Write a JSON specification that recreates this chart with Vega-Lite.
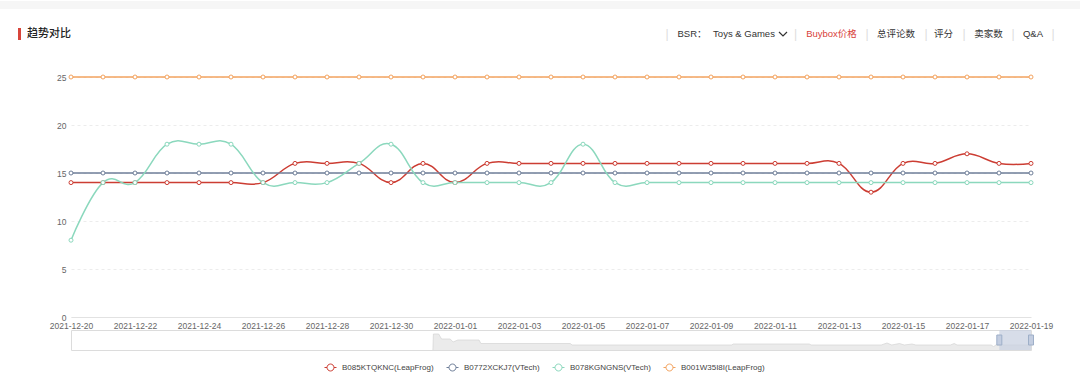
{
  "$schema": "https://vega.github.io/schema/vega-lite/v6.json",
  "padding": 0,
  "background": "white",
  "spacing": 0,
  "bounds": "full",
  "config": {
    "view": {"stroke": null},
    "concat": {"spacing": 0},
    "font": "Liberation Sans, Noto Sans CJK SC, sans-serif",
    "text": {"font": "Liberation Sans, Noto Sans CJK SC, sans-serif", "fontSize": 9.5, "color": "#333333", "baseline": "middle", "align": "center"}
  },
  "datasets": {
    "main": [
      {"date": "2021-12-20", "B085KTQKNC(LeapFrog)": 14, "B0772XCKJ7(VTech)": 15, "B078KGNGNS(VTech)": 8, "B001W35I8I(LeapFrog)": 25},
      {"date": "2021-12-21", "B085KTQKNC(LeapFrog)": 14, "B0772XCKJ7(VTech)": 15, "B078KGNGNS(VTech)": 14, "B001W35I8I(LeapFrog)": 25},
      {"date": "2021-12-22", "B085KTQKNC(LeapFrog)": 14, "B0772XCKJ7(VTech)": 15, "B078KGNGNS(VTech)": 14, "B001W35I8I(LeapFrog)": 25},
      {"date": "2021-12-23", "B085KTQKNC(LeapFrog)": 14, "B0772XCKJ7(VTech)": 15, "B078KGNGNS(VTech)": 18, "B001W35I8I(LeapFrog)": 25},
      {"date": "2021-12-24", "B085KTQKNC(LeapFrog)": 14, "B0772XCKJ7(VTech)": 15, "B078KGNGNS(VTech)": 18, "B001W35I8I(LeapFrog)": 25},
      {"date": "2021-12-25", "B085KTQKNC(LeapFrog)": 14, "B0772XCKJ7(VTech)": 15, "B078KGNGNS(VTech)": 18, "B001W35I8I(LeapFrog)": 25},
      {"date": "2021-12-26", "B085KTQKNC(LeapFrog)": 14, "B0772XCKJ7(VTech)": 15, "B078KGNGNS(VTech)": 14, "B001W35I8I(LeapFrog)": 25},
      {"date": "2021-12-27", "B085KTQKNC(LeapFrog)": 16, "B0772XCKJ7(VTech)": 15, "B078KGNGNS(VTech)": 14, "B001W35I8I(LeapFrog)": 25},
      {"date": "2021-12-28", "B085KTQKNC(LeapFrog)": 16, "B0772XCKJ7(VTech)": 15, "B078KGNGNS(VTech)": 14, "B001W35I8I(LeapFrog)": 25},
      {"date": "2021-12-29", "B085KTQKNC(LeapFrog)": 16, "B0772XCKJ7(VTech)": 15, "B078KGNGNS(VTech)": 16, "B001W35I8I(LeapFrog)": 25},
      {"date": "2021-12-30", "B085KTQKNC(LeapFrog)": 14, "B0772XCKJ7(VTech)": 15, "B078KGNGNS(VTech)": 18, "B001W35I8I(LeapFrog)": 25},
      {"date": "2021-12-31", "B085KTQKNC(LeapFrog)": 16, "B0772XCKJ7(VTech)": 15, "B078KGNGNS(VTech)": 14, "B001W35I8I(LeapFrog)": 25},
      {"date": "2022-01-01", "B085KTQKNC(LeapFrog)": 14, "B0772XCKJ7(VTech)": 15, "B078KGNGNS(VTech)": 14, "B001W35I8I(LeapFrog)": 25},
      {"date": "2022-01-02", "B085KTQKNC(LeapFrog)": 16, "B0772XCKJ7(VTech)": 15, "B078KGNGNS(VTech)": 14, "B001W35I8I(LeapFrog)": 25},
      {"date": "2022-01-03", "B085KTQKNC(LeapFrog)": 16, "B0772XCKJ7(VTech)": 15, "B078KGNGNS(VTech)": 14, "B001W35I8I(LeapFrog)": 25},
      {"date": "2022-01-04", "B085KTQKNC(LeapFrog)": 16, "B0772XCKJ7(VTech)": 15, "B078KGNGNS(VTech)": 14, "B001W35I8I(LeapFrog)": 25},
      {"date": "2022-01-05", "B085KTQKNC(LeapFrog)": 16, "B0772XCKJ7(VTech)": 15, "B078KGNGNS(VTech)": 18, "B001W35I8I(LeapFrog)": 25},
      {"date": "2022-01-06", "B085KTQKNC(LeapFrog)": 16, "B0772XCKJ7(VTech)": 15, "B078KGNGNS(VTech)": 14, "B001W35I8I(LeapFrog)": 25},
      {"date": "2022-01-07", "B085KTQKNC(LeapFrog)": 16, "B0772XCKJ7(VTech)": 15, "B078KGNGNS(VTech)": 14, "B001W35I8I(LeapFrog)": 25},
      {"date": "2022-01-08", "B085KTQKNC(LeapFrog)": 16, "B0772XCKJ7(VTech)": 15, "B078KGNGNS(VTech)": 14, "B001W35I8I(LeapFrog)": 25},
      {"date": "2022-01-09", "B085KTQKNC(LeapFrog)": 16, "B0772XCKJ7(VTech)": 15, "B078KGNGNS(VTech)": 14, "B001W35I8I(LeapFrog)": 25},
      {"date": "2022-01-10", "B085KTQKNC(LeapFrog)": 16, "B0772XCKJ7(VTech)": 15, "B078KGNGNS(VTech)": 14, "B001W35I8I(LeapFrog)": 25},
      {"date": "2022-01-11", "B085KTQKNC(LeapFrog)": 16, "B0772XCKJ7(VTech)": 15, "B078KGNGNS(VTech)": 14, "B001W35I8I(LeapFrog)": 25},
      {"date": "2022-01-12", "B085KTQKNC(LeapFrog)": 16, "B0772XCKJ7(VTech)": 15, "B078KGNGNS(VTech)": 14, "B001W35I8I(LeapFrog)": 25},
      {"date": "2022-01-13", "B085KTQKNC(LeapFrog)": 16, "B0772XCKJ7(VTech)": 15, "B078KGNGNS(VTech)": 14, "B001W35I8I(LeapFrog)": 25},
      {"date": "2022-01-14", "B085KTQKNC(LeapFrog)": 13, "B0772XCKJ7(VTech)": 15, "B078KGNGNS(VTech)": 14, "B001W35I8I(LeapFrog)": 25},
      {"date": "2022-01-15", "B085KTQKNC(LeapFrog)": 16, "B0772XCKJ7(VTech)": 15, "B078KGNGNS(VTech)": 14, "B001W35I8I(LeapFrog)": 25},
      {"date": "2022-01-16", "B085KTQKNC(LeapFrog)": 16, "B0772XCKJ7(VTech)": 15, "B078KGNGNS(VTech)": 14, "B001W35I8I(LeapFrog)": 25},
      {"date": "2022-01-17", "B085KTQKNC(LeapFrog)": 17, "B0772XCKJ7(VTech)": 15, "B078KGNGNS(VTech)": 14, "B001W35I8I(LeapFrog)": 25},
      {"date": "2022-01-18", "B085KTQKNC(LeapFrog)": 16, "B0772XCKJ7(VTech)": 15, "B078KGNGNS(VTech)": 14, "B001W35I8I(LeapFrog)": 25},
      {"date": "2022-01-19", "B085KTQKNC(LeapFrog)": 16, "B0772XCKJ7(VTech)": 15, "B078KGNGNS(VTech)": 14, "B001W35I8I(LeapFrog)": 25}
    ],
    "shadow": [
      {"p": 37.7, "v": 0}, {"p": 37.75, "v": 16}, {"p": 38.3, "v": 16}, {"p": 38.6, "v": 11}, {"p": 39.5, "v": 11},
      {"p": 39.8, "v": 8}, {"p": 40.3, "v": 10}, {"p": 42.5, "v": 10}, {"p": 42.7, "v": 6.5}, {"p": 52, "v": 6.5},
      {"p": 52.2, "v": 5}, {"p": 68.8, "v": 5}, {"p": 69, "v": 6}, {"p": 76.9, "v": 6}, {"p": 77.1, "v": 5},
      {"p": 84.4, "v": 5}, {"p": 85, "v": 7}, {"p": 85.5, "v": 5}, {"p": 86.3, "v": 6.5}, {"p": 86.8, "v": 5},
      {"p": 87.6, "v": 6}, {"p": 88, "v": 5}, {"p": 91.6, "v": 5}, {"p": 92, "v": 6.5}, {"p": 92.3, "v": 5},
      {"p": 95.9, "v": 5}, {"p": 96.1, "v": 3}, {"p": 96.3, "v": 5}, {"p": 100, "v": 5}
    ],
    "win": [{"a": 96.7, "b": 100}],
    "handles": [{"a": 96.7}, {"a": 100}],
    "one": [{}]
  },
  "vconcat": [
    {"width": 1080, "height": 8, "view": {"fill": "#f6f6f6", "stroke": null}, "data": {"name": "one"}, "mark": "text", "encoding": {"text": {"value": ""}}},
    {"width": 1080, "height": 18, "data": {"name": "one"}, "mark": "text", "encoding": {"text": {"value": ""}}},
    {
      "spacing": 0,
      "bounds": "flush",
      "hconcat": [
        {"width": 18, "height": 12, "data": {"name": "one"}, "mark": "text", "encoding": {"text": {"value": ""}}},
        {"width": 3, "height": 12, "view": {"fill": "#d8453b", "stroke": null}, "data": {"name": "one"}, "mark": "text", "encoding": {"text": {"value": ""}}},
        {"width": 56, "height": 12, "data": {"name": "one"}, "mark": {"type": "text", "fontSize": 11, "fontWeight": 500, "color": "#222222"}, "encoding": {"text": {"value": "趋势对比"}}},
        {"width": 584, "height": 12, "data": {"name": "one"}, "mark": "text", "encoding": {"text": {"value": ""}}},
        {"width": 12, "height": 12, "data": {"name": "one"}, "mark": {"type": "text", "fontSize": 12, "color": "#dddddd"}, "encoding": {"text": {"value": "|"}}},
        {"width": 38, "height": 12, "data": {"name": "one"}, "mark": {"type": "text"}, "encoding": {"text": {"value": "BSR："}}},
        {"width": 66, "height": 12, "data": {"name": "one"}, "mark": {"type": "text"}, "encoding": {"text": {"value": "Toys & Games"}}},
        {"width": 12, "height": 12, "data": {"name": "one"}, "mark": {"type": "point", "shape": "M-1,-0.5L0,0.5L1,-0.5", "filled": false, "color": "#333333", "strokeWidth": 1.2, "size": 64, "opacity": 1}, "encoding": {}},
        {"width": 13, "height": 12, "data": {"name": "one"}, "mark": {"type": "text", "fontSize": 12, "color": "#dddddd"}, "encoding": {"text": {"value": "|"}}},
        {"width": 59, "height": 12, "data": {"name": "one"}, "mark": {"type": "text", "color": "#d8403a"}, "encoding": {"text": {"value": "Buybox价格"}}},
        {"width": 12, "height": 12, "data": {"name": "one"}, "mark": {"type": "text", "fontSize": 12, "color": "#dddddd"}, "encoding": {"text": {"value": "|"}}},
        {"width": 46, "height": 12, "data": {"name": "one"}, "mark": {"type": "text"}, "encoding": {"text": {"value": "总评论数"}}},
        {"width": 14, "height": 12, "data": {"name": "one"}, "mark": {"type": "text", "fontSize": 12, "color": "#dddddd"}, "encoding": {"text": {"value": "|"}}},
        {"width": 21, "height": 12, "data": {"name": "one"}, "mark": {"type": "text"}, "encoding": {"text": {"value": "评分"}}},
        {"width": 20, "height": 12, "data": {"name": "one"}, "mark": {"type": "text", "fontSize": 12, "color": "#dddddd"}, "encoding": {"text": {"value": "|"}}},
        {"width": 29, "height": 12, "data": {"name": "one"}, "mark": {"type": "text"}, "encoding": {"text": {"value": "卖家数"}}},
        {"width": 20, "height": 12, "data": {"name": "one"}, "mark": {"type": "text", "fontSize": 12, "color": "#dddddd"}, "encoding": {"text": {"value": "|"}}},
        {"width": 20, "height": 12, "data": {"name": "one"}, "mark": {"type": "text"}, "encoding": {"text": {"value": "Q&A"}}},
        {"width": 20, "height": 12, "data": {"name": "one"}, "mark": {"type": "text", "fontSize": 12, "color": "#dddddd"}, "encoding": {"text": {"value": "|"}}},
        {"width": 17, "height": 12, "data": {"name": "one"}, "mark": "text", "encoding": {"text": {"value": ""}}}
      ]
    },
    {"width": 1080, "height": 32.75, "data": {"name": "one"}, "mark": "text", "encoding": {"text": {"value": ""}}},
    {
      "spacing": -7,
      "bounds": "full",
      "vconcat": [
        {
          "spacing": 0,
          "bounds": "flush",
          "hconcat": [
            {"width": 71, "height": 240, "data": {"name": "one"}, "mark": "text", "encoding": {"text": {"value": ""}}},
            {
              "width": 960,
              "height": 240,
              "data": {"name": "main"},
              "transform": [{"fold": ["B085KTQKNC(LeapFrog)", "B0772XCKJ7(VTech)", "B078KGNGNS(VTech)", "B001W35I8I(LeapFrog)"], "as": ["series", "value"]}],
              "encoding": {
                "x": {
                  "field": "date", "type": "temporal",
                  "scale": {"type": "utc", "domain": [1639958400000, 1642550400000], "nice": false},
                  "axis": {
                    "title": null, "format": "%Y-%m-%d",
                    "values": [1639958400000, 1640131200000, 1640304000000, 1640476800000, 1640649600000, 1640822400000, 1640995200000, 1641168000000, 1641340800000, 1641513600000, 1641686400000, 1641859200000, 1642032000000, 1642204800000, 1642377600000, 1642550400000],
                    "grid": false, "ticks": false, "tickSize": 0, "labelPadding": 4,
                    "minExtent": 0, "maxExtent": 20,
                    "domainColor": "#e2e2e2", "domainWidth": 1,
                    "labelFont": "Liberation Sans", "labelFontSize": 8.5, "labelColor": "#666666",
                    "labelOverlap": false, "labelBound": false, "labelFlush": false
                  }
                },
                "y": {
                  "field": "value", "type": "quantitative",
                  "scale": {"domain": [0, 25], "nice": false, "zero": true},
                  "axis": {
                    "title": null, "values": [0, 5, 10, 15, 20, 25],
                    "domain": false, "ticks": false, "tickSize": 0, "labelPadding": 5,
                    "minExtent": 0,
                    "grid": true, "gridColor": "#ececec", "gridDash": [3, 3], "gridWidth": 1,
                    "labelFont": "Liberation Sans", "labelFontSize": 8.5, "labelColor": "#666666"
                  }
                },
                "color": {
                  "field": "series", "type": "nominal",
                  "scale": {
                    "domain": ["B085KTQKNC(LeapFrog)", "B0772XCKJ7(VTech)", "B078KGNGNS(VTech)", "B001W35I8I(LeapFrog)"],
                    "range": ["#cc3d33", "#6e7e98", "#8bd8bd", "#f3a35f"]
                  },
                  "legend": {
                    "title": null, "orient": "none", "legendX": 324, "legendY": 360, "direction": "horizontal",
                    "symbolType": "M-1,0H-0.58M0.58,0H1M0.58,0A0.58,0.58 0 1,1 -0.58,0A0.58,0.58 0 1,1 0.58,0",
                    "symbolSize": 144, "symbolStrokeWidth": 1, "symbolFillColor": "white",
                    "labelFont": "Liberation Sans", "labelFontSize": 8, "labelColor": "#444444",
                    "labelOffset": 5, "columnPadding": 10
                  }
                }
              },
              "layer": [
                {"mark": {"type": "line", "interpolate": "cardinal", "tension": -0.25, "strokeWidth": 1.5}},
                {"mark": {"type": "point", "shape": "circle", "filled": false, "fill": "white", "fillOpacity": 1, "size": 16, "strokeWidth": 1, "opacity": 1}}
              ]
            }
          ]
        },
        {
          "spacing": 0,
          "bounds": "flush",
          "hconcat": [
            {"width": 71, "height": 20, "data": {"name": "one"}, "mark": "text", "encoding": {"text": {"value": ""}}},
            {
              "width": 960,
              "height": 20,
              "view": {"stroke": "#dcdcdc", "fill": "white"},
              "layer": [
                {
                  "data": {"name": "shadow"},
                  "mark": {"type": "area", "color": "#ebebeb", "opacity": 1, "line": {"color": "#d4d4d4", "strokeWidth": 0.7}},
                  "encoding": {
                    "x": {"field": "p", "type": "quantitative", "scale": {"domain": [0, 100], "nice": false, "zero": false}, "axis": null},
                    "y": {"field": "v", "type": "quantitative", "scale": {"domain": [0, 20], "nice": false}, "axis": null}
                  }
                },
                {
                  "data": {"name": "win"},
                  "mark": {"type": "rect", "color": "#c9d2e2", "opacity": 0.75},
                  "encoding": {
                    "x": {"field": "a", "type": "quantitative"},
                    "x2": {"field": "b"}
                  }
                },
                {
                  "data": {"name": "handles"},
                  "mark": {"type": "point", "shape": "M-0.5,-1H0.5V1H-0.5Z", "size": 100, "filled": true, "fill": "#c3cde0", "stroke": "#9eafc8", "strokeWidth": 1, "opacity": 1},
                  "encoding": {
                    "x": {"field": "a", "type": "quantitative"}
                  }
                }
              ]
            }
          ]
        }
      ]
    }
  ]
}
